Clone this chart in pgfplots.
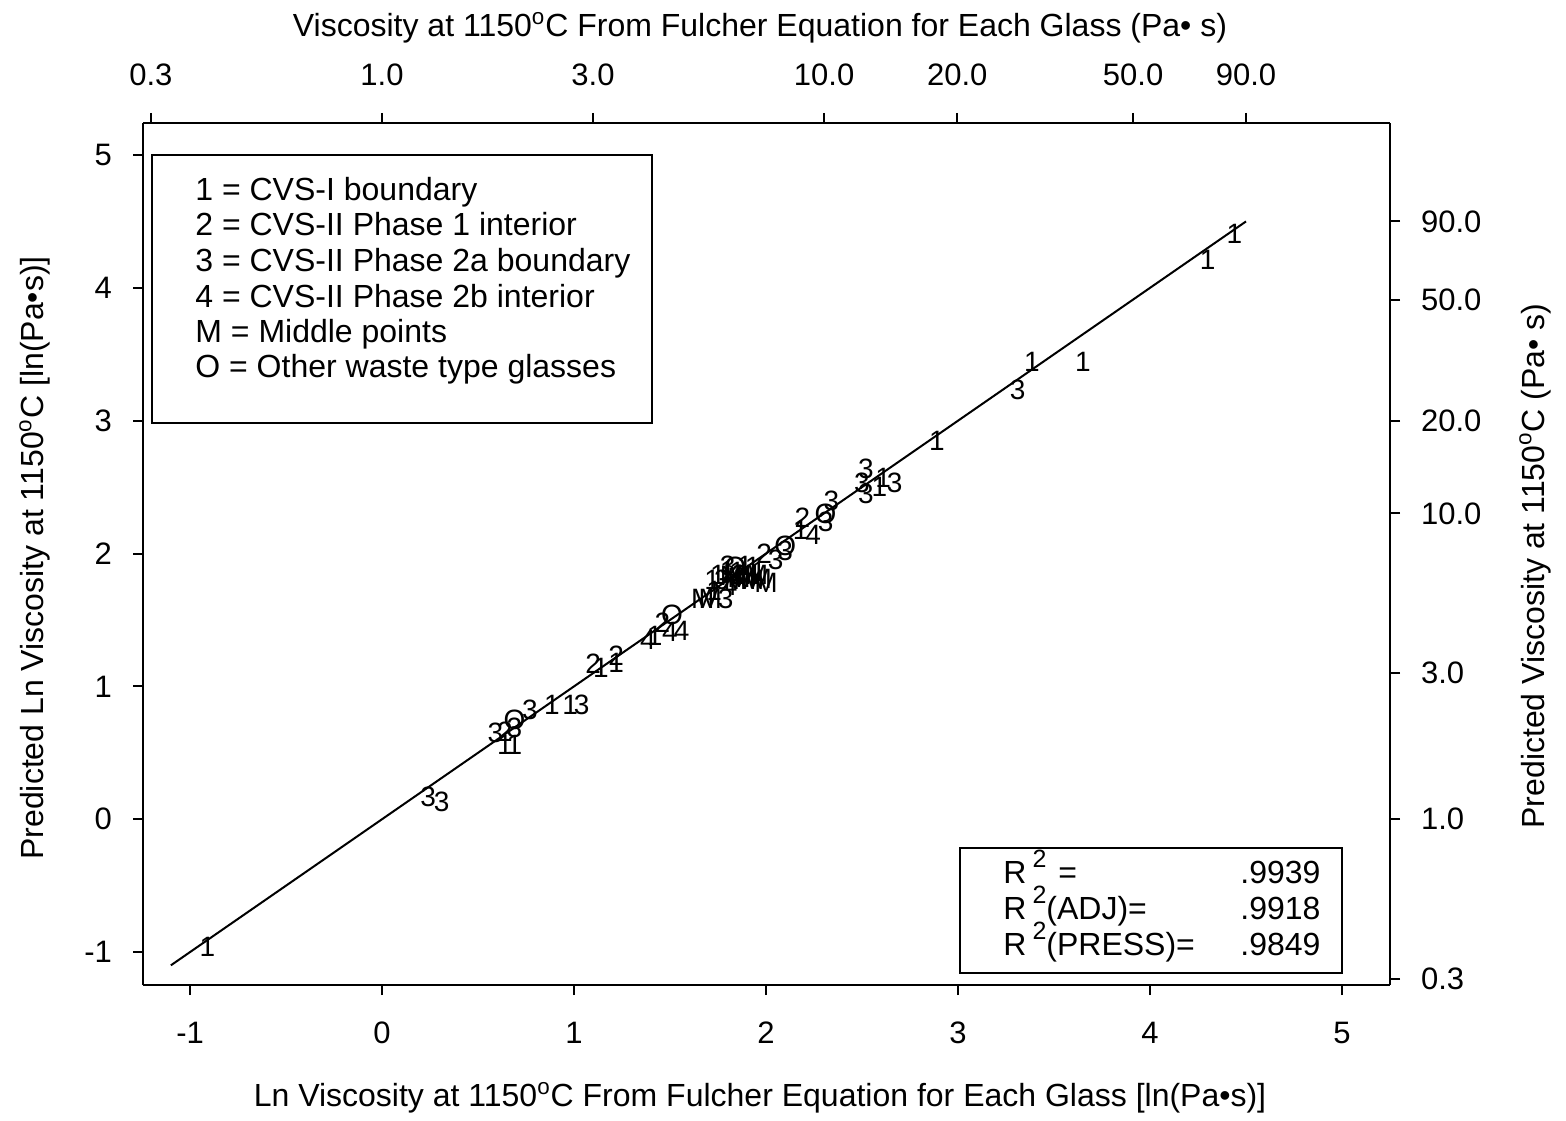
\documentclass[border=0pt]{standalone}
\usepackage{fontspec}
\setmainfont{Liberation Sans}
\usepackage{pgfplots}
\pgfplotsset{compat=1.18}
\usepackage{pgfplotstable}

\pgfplotstableread{
x y lab
-0.91 -0.96 1
0.24 0.17 3
0.31 0.13 3
0.59 0.65 3
0.64 0.66 2
0.69 0.75 O
0.69 0.69 3
0.64 0.56 1
0.69 0.56 1
0.77 0.82 3
0.885 0.86 1
0.98 0.86 1
1.04 0.86 3
1.10 1.17 2
1.14 1.14 1
1.22 1.23 2
1.22 1.18 1
1.385 1.35 4
1.42 1.38 1
1.46 1.48 2
1.51 1.54 O
1.50 1.41 4
1.56 1.42 4
1.67 1.66 M
1.71 1.66 M
1.73 1.72 1
1.79 1.66 3
1.72 1.80 1
1.75 1.84 1
1.80 1.91 3
1.84 1.90 O
1.89 1.91 1
1.93 1.90 1
1.84 1.80 M
1.89 1.80 M
1.93 1.80 M
1.97 1.81 M
2.00 1.78 M
1.81 1.76 4
1.86 1.84 2
1.82 1.83 M
1.86 1.82 M
1.90 1.84 M
1.80 1.87 1
1.85 1.86 1
1.95 1.84 M
1.96 1.86 1
1.77 1.80 3
1.99 2.00 2
2.05 1.95 3
2.10 2.06 O
2.10 2.02 3
2.18 2.18 1
2.19 2.27 2
2.245 2.14 4
2.31 2.30 O
2.31 2.24 3
2.34 2.40 3
2.52 2.64 3
2.50 2.53 3
2.52 2.45 3
2.61 2.57 1
2.59 2.50 1
2.67 2.53 3
2.89 2.85 1
3.31 3.23 3
3.385 3.44 1
3.65 3.44 1
4.30 4.21 1
4.44 4.41 1
}\pts

\newcommand{\bigf}{\fontsize{16}{19}\selectfont}
\newcommand{\tickf}{\fontsize{15.5}{18}\selectfont}

\begin{document}
\begin{tikzpicture}
\path[use as bounding box] (-71.5pt,-67.5pt) rectangle (711.5pt,492.5pt);

\begin{axis}[
  scale only axis, width=623.5pt, height=431pt,
  xmin=-1.245, xmax=5.25, ymin=-1.248, ymax=5.241,
  axis x line=bottom, axis y line=left,
  axis line style={-, line width=1pt},
  tick align=outside, major tick length=5pt,
  tick style={line width=1pt, black},
  xtick={-1,0,1,2,3,4,5}, ytick={-1,0,1,2,3,4,5},
  xticklabels={-1,0,1,2,3,4,5}, yticklabels={-1,0,1,2,3,4,5},
  every tick label/.append style={font=\tickf},
  xticklabel style={yshift=-10pt},
  yticklabel style={xshift=-7pt},
  clip=false,
]
\addplot[black, line width=1pt] coordinates {(-1.1,-1.1) (4.5,4.5)};
\addplot[draw=none, mark=none, nodes near coords, point meta=explicit symbolic,
  nodes near coords align={center},
  every node near coord/.append style={font=\fontsize{14}{14}\selectfont, inner sep=0pt, anchor=center}]
  table[x=x, y=y, meta=lab] {\pts};
\end{axis}

\begin{axis}[
  scale only axis, width=623.5pt, height=431pt,
  xmin=-1.245, xmax=5.25, ymin=-1.248, ymax=5.241,
  axis x line=top, axis y line=right,
  axis line style={-, line width=1pt},
  tick align=outside, major tick length=5pt,
  tick style={line width=1pt, black},
  xtick={-1.20397,0,1.09861,2.30259,2.99573,3.91202,4.49981},
  xticklabels={0.3,1.0,3.0,10.0,20.0,50.0,90.0},
  ytick={-1.20397,0,1.09861,2.30259,2.99573,3.91202,4.49981},
  yticklabels={0.3,1.0,3.0,10.0,20.0,50.0,90.0},
  every tick label/.append style={font=\tickf},
  xticklabel style={yshift=10pt},
  yticklabel style={xshift=7pt},
]
\addplot[draw=none] coordinates {(0,0)};
\end{axis}

% axis titles
\node[font=\bigf] at (308.5pt,478.5pt) {Viscosity at 1150\textsuperscript{o}C From Fulcher Equation for Each Glass (Pa\textbullet\ s)};
\node[font=\bigf] at (308.5pt,-56.5pt) {Ln Viscosity at 1150\textsuperscript{o}C From Fulcher Equation for Each Glass [ln(Pa\textbullet s)]};
\node[font=\bigf, rotate=90] at (-54pt,213.5pt) {Predicted Ln Viscosity at 1150\textsuperscript{o}C [ln(Pa\textbullet s)]};
\node[font=\bigf, rotate=90] at (696pt,209.5pt) {Predicted Viscosity at 1150\textsuperscript{o}C (Pa\textbullet\ s)};

% legend box
\draw[line width=0.8pt] (4.5pt,281pt) rectangle (254.5pt,415pt);
\begin{scope}[every node/.style={font=\bigf, anchor=base west, inner sep=0pt}]
\node at (26pt,392pt) {1 = CVS-I boundary};
\node at (26pt,374.5pt) {2 = CVS-II Phase 1 interior};
\node at (26pt,356.5pt) {3 = CVS-II Phase 2a boundary};
\node at (26pt,338.5pt) {4 = CVS-II Phase 2b interior};
\node at (26pt,321pt) {M = Middle points};
\node at (26pt,303.5pt) {O = Other waste type glasses};
\end{scope}

% R^2 box
\draw[line width=0.8pt] (408.5pt,6pt) rectangle (599.5pt,68.5pt);
\begin{scope}[every node/.style={font=\bigf, anchor=base west, inner sep=0pt}]
\node at (430pt,51pt) {R\hspace{3pt}\raisebox{8pt}{\fontsize{12.5}{12.5}\selectfont 2}\hspace{6pt}=};
\node at (430pt,33pt) {R\hspace{3pt}\raisebox{8pt}{\fontsize{12.5}{12.5}\selectfont 2}(ADJ)=};
\node at (430pt,15pt) {R\hspace{3pt}\raisebox{8pt}{\fontsize{12.5}{12.5}\selectfont 2}(PRESS)=};
\node at (548.5pt,51pt) {.9939};
\node at (548.5pt,33pt) {.9918};
\node at (548.5pt,15pt) {.9849};
\end{scope}
\end{tikzpicture}
\end{document}
